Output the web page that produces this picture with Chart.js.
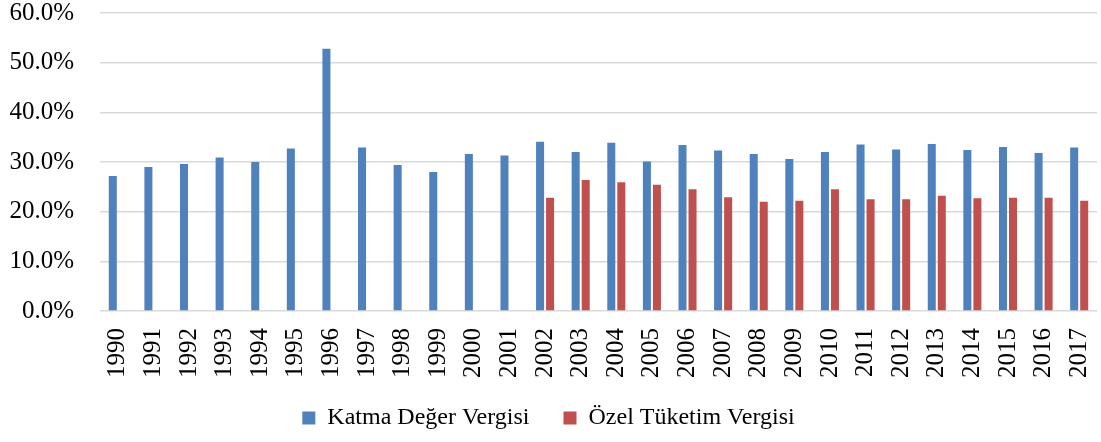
<!DOCTYPE html>
<html>
<head>
<meta charset="utf-8">
<script src="https://cdn.jsdelivr.net/npm/chart.js@4"></script>
<style>
  html, body { margin: 0; padding: 0; background: #ffffff; }
  #wrap { width: 1101px; height: 442px; position: relative; }
</style>
</head>
<body>
<div id="wrap"><canvas id="taxChart"></canvas></div>
<script>
const years = ["1990", "1991", "1992", "1993", "1994", "1995", "1996", "1997", "1998", "1999",
  "2000", "2001", "2002", "2003", "2004", "2005", "2006", "2007", "2008", "2009",
  "2010", "2011", "2012", "2013", "2014", "2015", "2016", "2017"];

const kdvValues = [27.2, 29.0, 29.6, 30.9, 30.0, 32.7, 52.8, 32.9, 29.4, 28.0,
  31.6, 31.3, 34.1, 32.0, 33.9, 30.1, 33.4, 32.3, 31.6, 30.6,
  32.0, 33.5, 32.5, 33.6, 32.4, 33.0, 31.8, 32.9];

const otvValues = [null, null, null, null, null, null, null, null, null, null,
  null, null, 22.8, 26.4, 25.9, 25.4, 24.5, 22.9, 22.0, 22.2,
  24.5, 22.5, 22.5, 23.2, 22.7, 22.8, 22.8, 22.2];

const font = "'Liberation Serif', 'Times New Roman', serif";

new Chart(document.getElementById("taxChart"), {
  type: "bar",
  data: {
    labels: years,
    datasets: [
      {
        label: "Katma Değer Vergisi",
        data: kdvValues,
        backgroundColor: "#4f81bd",
        categoryPercentage: 0.563,
        barPercentage: 0.8
      },
      {
        label: "Özel Tüketim Vergisi",
        data: otvValues,
        backgroundColor: "#c0504d",
        categoryPercentage: 0.563,
        barPercentage: 0.8
      }
    ]
  },
  options: {
    responsive: true,
    maintainAspectRatio: false,
    animation: false,
    layout: { padding: { top: 0, right: 4, left: 0, bottom: 2 } },
    plugins: {
      tooltip: { enabled: false },
      legend: {
        position: "bottom",
        labels: {
          color: "#000000",
          font: { family: font, size: 24 },
          boxWidth: 13,
          boxHeight: 13,
          padding: 10,
          // wider gap between the two entries without extra vertical padding
          generateLabels: function (chart) {
            const items = Chart.defaults.plugins.legend.labels.generateLabels(chart);
            items[0].text += "\u2002\u2002";
            return items;
          }
        }
      }
    },
    scales: {
      x: {
        grid: { display: false },
        border: { display: false },
        ticks: {
          color: "#000000",
          font: { family: font, size: 25 },
          maxRotation: 90,
          minRotation: 90,
          autoSkip: false,
          padding: 9
        },
        afterFit: function (scale) {
          scale.height = 85;
          scale.paddingLeft = 0;
          scale.paddingRight = 0;
        }
      },
      y: {
        min: 0,
        max: 60,
        border: { display: false },
        grid: { color: "#d9d9d9", lineWidth: 1.5, drawTicks: false },
        ticks: {
          stepSize: 10,
          color: "#000000",
          font: { family: font, size: 25 },
          padding: 26,
          callback: function (v) { return v.toFixed(1) + "%"; }
        },
        // the tick padding would otherwise push the top gridline down
        afterFit: function (scale) {
          scale.width = 100;
          scale.paddingTop = 13;
          scale.paddingBottom = 0;
        }
      }
    }
  }
});
</script>
</body>
</html>
